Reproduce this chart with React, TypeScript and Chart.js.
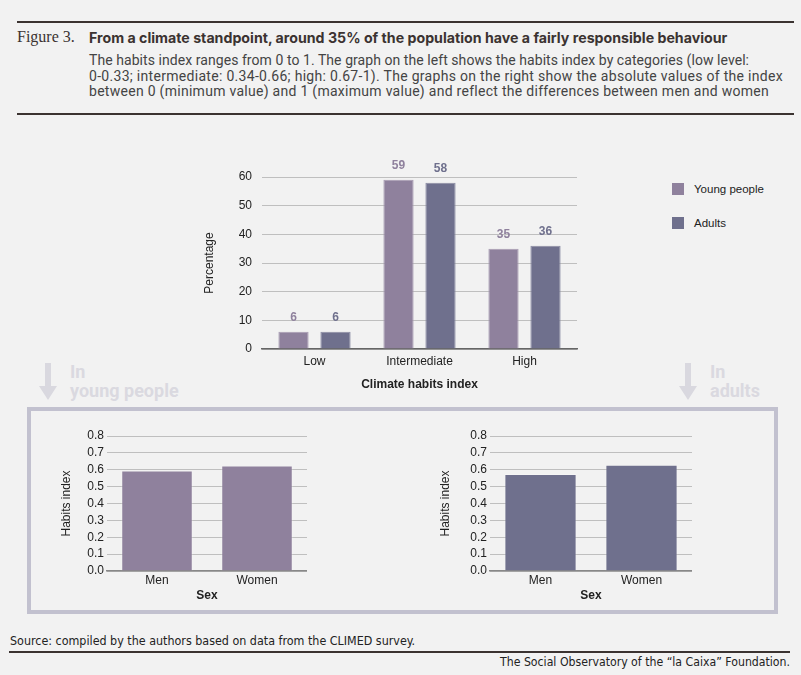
import { useEffect, useRef } from "react";
import Chart from "chart.js/auto";

// main chart: share of population by habits category
const categories = ["Low", "Intermediate", "High"];
const youngShare = [6, 59, 35];
const adultShare = [6, 58, 36];

// small charts: habits index by sex
const sexes = ["Men", "Women"];
const youngIndex = [0.595, 0.625];
const adultIndex = [0.575, 0.63];

const YOUNG = "#8f819d";
const ADULT = "#6f708d";
const GRID = "#bfbfbf";
const INK = "#222";
const FONT = "'Liberation Sans', Arial, sans-serif";
const NARROW = "'Liberation Sans Narrow', 'DejaVu Sans Condensed', sans-serif";

// draws the numbers above the bars in the bar colour
const valueLabels = {
  id: "valueLabels",
  afterDatasetsDraw(chart: Chart) {
    const { ctx } = chart;
    ctx.save();
    ctx.font = `bold 12px ${FONT}`;
    ctx.textAlign = "center";
    ctx.textBaseline = "middle";
    chart.data.datasets.forEach((ds, i) => {
      const meta = chart.getDatasetMeta(i);
      ctx.fillStyle = ds.backgroundColor as string;
      meta.data.forEach((bar, j) => {
        ctx.fillText(String(ds.data[j]), bar.x, bar.y - 14);
      });
    });
    ctx.restore();
  },
};

function MainChart() {
  const ref = useRef<HTMLCanvasElement>(null);

  useEffect(() => {
    if (!ref.current) return;
    const chart = new Chart(ref.current, {
      type: "bar",
      data: {
        labels: categories,
        datasets: [
          { label: "Young people", data: youngShare, backgroundColor: YOUNG, borderColor: "#a89cb3", borderWidth: 1 },
          { label: "Adults", data: adultShare, backgroundColor: ADULT, borderColor: "#8a8ba3", borderWidth: 1 },
        ],
      },
      options: {
        animation: false,
        responsive: false,
        devicePixelRatio: 1,
        layout: { padding: { top: 27, right: 13, left: 0, bottom: 0 } },
        datasets: { bar: { categoryPercentage: 0.8, barPercentage: 0.72 } },
        plugins: { legend: { display: false }, tooltip: { enabled: false } },
        scales: {
          x: {
            grid: { display: false, drawTicks: false },
            border: { color: "#666", width: 1.5 },
            ticks: { color: INK, font: { family: FONT, size: 12 }, padding: 5 },
            title: { display: true, text: "Climate habits index", color: INK, font: { family: FONT, size: 12, weight: "bold" }, padding: { top: 0, bottom: 8 } },
            afterFit: (s) => { s.height = 51; },
          },
          y: {
            min: 0,
            max: 60,
            ticks: { stepSize: 10, autoSkip: false, color: INK, font: { family: FONT, size: 12 }, padding: 10 },
            grid: { color: GRID, drawTicks: false },
            border: { display: false },
            title: { display: true, text: "Percentage", color: INK, font: { family: FONT, size: 12 }, padding: { top: 12, bottom: 0 } },
            afterFit: (s) => { s.width = 72; },
          },
        },
      },
      plugins: [valueLabels],
    });
    return () => chart.destroy();
  }, []);

  return <canvas ref={ref} width={400} height={250} style={{ position: "absolute", left: 190, top: 150 }} />;
}

interface SexChartProps {
  values: number[];
  color: string;
  left: number;
  axisWidth: number;
  width: number;
}

function SexChart({ values, color, left, axisWidth, width }: SexChartProps) {
  const ref = useRef<HTMLCanvasElement>(null);

  useEffect(() => {
    if (!ref.current) return;
    const chart = new Chart(ref.current, {
      type: "bar",
      data: {
        labels: sexes,
        datasets: [{ data: values, backgroundColor: color, borderColor: "rgba(255,255,255,0.25)", borderWidth: 1 }],
      },
      options: {
        animation: false,
        responsive: false,
        devicePixelRatio: 1,
        layout: { padding: { top: 16, right: 0, left: 0, bottom: 0 } },
        datasets: { bar: { categoryPercentage: 1, barPercentage: 0.715 } },
        plugins: { legend: { display: false }, tooltip: { enabled: false } },
        scales: {
          x: {
            grid: { display: false, drawTicks: false },
            border: { color: "#888", width: 1.5 },
            ticks: { color: INK, font: { family: FONT, size: 12 }, padding: 2 },
            title: { display: true, text: "Sex", color: INK, font: { family: FONT, size: 12, weight: "bold" }, padding: { top: 0, bottom: 3 } },
            afterFit: (s) => { s.height = 35; },
          },
          y: {
            min: 0,
            max: 0.8,
            ticks: {
              stepSize: 0.1,
              autoSkip: false,
              color: INK,
              font: { family: FONT, size: 12 },
              padding: 3,
              callback: (v) => Number(v).toFixed(1),
            },
            grid: { color: GRID, drawTicks: false },
            border: { display: false },
            title: { display: true, text: "Habits index", color: INK, font: { family: FONT, size: 12 }, padding: { top: 4, bottom: 0 } },
            afterFit: (s) => { s.width = axisWidth; },
          },
        },
      },
    });
    return () => chart.destroy();
  }, [values, color, axisWidth]);

  return <canvas ref={ref} width={width} height={186} style={{ position: "absolute", left, top: 420 }} />;
}

function DownArrow({ x, label }: { x: number; label: string[] }) {
  return (
    <>
      <svg width={20} height={38} style={{ position: "absolute", left: x - 10, top: 363 }}>
        <polygon points="7,0 13,0 13,23 19,23 10,37 1,23 7,23" fill="#d9d8df" />
      </svg>
      <div
        style={{
          position: "absolute",
          left: x + 22,
          top: 362,
          font: "bold 18px Roboto, sans-serif",
          lineHeight: "19px",
          color: "#dad9e0",
          whiteSpace: "nowrap",
        }}
      >
        {label.map((l) => (
          <div key={l}>{l}</div>
        ))}
      </div>
    </>
  );
}

const introLines = [
  { text: "The habits index ranges from 0 to 1. The graph on the left shows the habits index by categories (low level:", spacing: 0.06 },
  { text: "0-0.33; intermediate: 0.34-0.66; high: 0.67-1). The graphs on the right show the absolute values of the index", spacing: 0.3 },
  { text: "between 0 (minimum value) and 1 (maximum value) and reflect the differences between men and women", spacing: 0.28 },
];

export default function App() {
  const rule = (top: number, left: number, width: number) => (
    <div style={{ position: "absolute", top, left, width, height: 2, background: "#3b3331" }} />
  );

  return (
    <div style={{ position: "relative", width: 801, height: 675, background: "#f2f2f2", overflow: "hidden", color: INK }}>
      <style>{"body{margin:0}"}</style>

      {rule(21, 17, 777)}
      <div style={{ position: "absolute", left: 17, top: 28, font: "16px 'Liberation Serif', serif", color: "#3b3331" }}>
        Figure 3.
      </div>
      <div
        style={{
          position: "absolute",
          left: 89,
          top: 29,
          font: "bold 14.2px Inter, sans-serif",
          color: "#3b3331",
          whiteSpace: "nowrap",
        }}
      >
        From a climate standpoint, around 35% of the population have a fairly responsible behaviour
      </div>
      <div
        style={{
          position: "absolute",
          left: 89,
          top: 53,
          font: "14px Roboto, sans-serif",
          lineHeight: "15.7px",
          color: "#444",
          whiteSpace: "nowrap",
        }}
      >
        {introLines.map((l) => (
          <div key={l.text} style={{ letterSpacing: `${l.spacing}px` }}>
            {l.text}
          </div>
        ))}
      </div>
      {rule(113, 17, 777)}

      <MainChart />

      {[
        { name: "Young people", color: YOUNG, top: 183 },
        { name: "Adults", color: ADULT, top: 217 },
      ].map((l) => (
        <div key={l.name}>
          <div style={{ position: "absolute", left: 672, top: l.top, width: 12, height: 12, background: l.color }} />
          <div style={{ position: "absolute", left: 694, top: l.top - 1, font: `11.5px ${FONT}`, lineHeight: "14px" }}>{l.name}</div>
        </div>
      ))}

      <DownArrow x={48} label={["In", "young people"]} />
      <DownArrow x={688} label={["In", "adults"]} />

      <div
        style={{
          position: "absolute",
          left: 27,
          top: 407,
          width: 751,
          height: 207,
          boxSizing: "border-box",
          border: "4.5px solid #c2c1cf",
        }}
      />

      <SexChart values={youngIndex} color={YOUNG} left={55} axisWidth={52} width={252} />
      <SexChart values={adultIndex} color={ADULT} left={434} axisWidth={56} width={258} />

      <div style={{ position: "absolute", left: 10, top: 633, font: `12.4px ${NARROW}`, fontStretch: "condensed", whiteSpace: "nowrap" }}>
        Source: compiled by the authors based on data from the CLIMED survey.
      </div>
      {rule(651, 9, 781)}
      <div style={{ position: "absolute", right: 11, top: 655, font: `12.2px ${NARROW}`, fontStretch: "condensed", whiteSpace: "nowrap" }}>
        The Social Observatory of the “la Caixa” Foundation.
      </div>
    </div>
  );
}
